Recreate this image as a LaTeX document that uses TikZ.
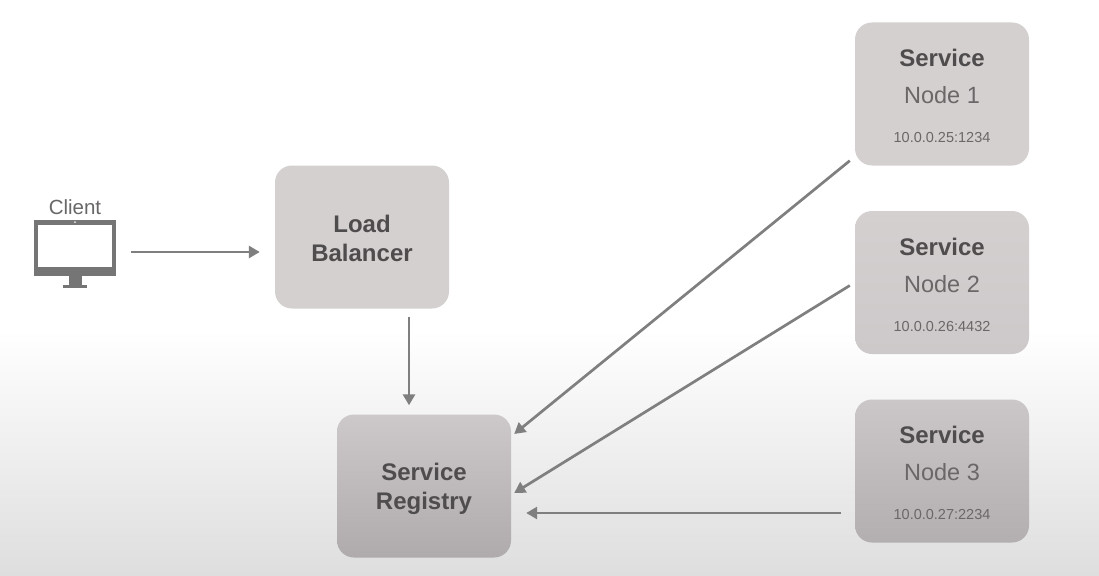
\documentclass[tikz,border=0pt]{standalone}
\usepackage{fontspec}
\setmainfont{Liberation Sans}
\usetikzlibrary{calc,arrows.meta}
\definecolor{txtdark}{HTML}{4F4C4D}
\definecolor{txtmid}{HTML}{6A6768}
\definecolor{arrowgrey}{HTML}{807F80}
\definecolor{monitorgrey}{HTML}{767576}
\definecolor{bgbottom}{HTML}{DEDEDE}
\definecolor{boxa}{HTML}{D5D0D0}
\definecolor{boxtop2}{HTML}{D5D0D0}
\definecolor{boxbot2}{HTML}{CDC8C9}
\definecolor{boxtop3}{HTML}{CBC6C7}
\definecolor{boxbot3}{HTML}{B3AFB1}
\definecolor{boxtopR}{HTML}{CDC8C9}
\definecolor{boxbotR}{HTML}{AFABAD}
\tikzset{
  x=1pt,y=-1pt,
  box/.style={rounded corners=17pt,minimum width=174pt,minimum height=143pt,inner sep=0pt,align=center,text=txtdark},
  boxA/.style={box,fill=boxa},
  bigbold/.style={font=\fontsize{24}{29}\selectfont\bfseries},
  svcfont/.style={font=\fontsize{24}{37}\selectfont},
  conn/.style={draw=arrowgrey,line width=2.7pt,-{Triangle[length=11pt,width=12pt]}},
}
\newcommand{\svctext}[2]{\rule{0pt}{22pt}\textbf{Service}\\{\fontsize{23.5}{37}\selectfont\color{txtmid}Node #1}\\[2pt]{\fontsize{14.5}{37}\selectfont\color{txtmid}#2}}
\begin{document}
\begin{tikzpicture}
\useasboundingbox (0,0) rectangle (1099,575);
\fill[white] (0,0) rectangle (1099,575);
\shade[top color=white,bottom color=bgbottom] (0,330) rectangle (1099,575);
% monitor
\node[inner sep=0pt,text=txtmid,font=\fontsize{20.5}{24}\selectfont] (clientlabel) at (75,207) {Client};
\node[fill=monitorgrey,minimum width=82.5pt,minimum height=56.5pt,inner sep=0pt] (screen) at (74.75,247.75) {};
\fill[white] (37.5,225) rectangle (112,267);
\fill[white!85!monitorgrey] (75,222) circle (1pt);
\fill[monitorgrey] (69,276) -- (82,276) -- (82,285) -- (69,285) -- cycle;
\fill[monitorgrey] (63,285) rectangle (87,287.5);
\node[boxA,bigbold] (lb) at (362,237) {\rule{0pt}{21pt}Load\\Balancer};
\node[box,bigbold,bottom color=boxbotR,top color=boxtopR] (reg) at (424,486) {\rule{0pt}{23pt}Service\\Registry};
\node[boxA,svcfont] (n1) at (942,94) {\svctext{1}{10.0.0.25:1234}};
\node[box,svcfont,top color=boxtop2,bottom color=boxbot2] (n2) at (942,282.5) {\svctext{2}{10.0.0.26:4432}};
\node[box,svcfont,top color=boxtop3,bottom color=boxbot3] (n3) at (942,471) {\svctext{3}{10.0.0.27:2234}};
\draw[conn] ($(screen.east)+(15,4.25)$) -- ($(lb.west)+(-15,15)$);
\draw[conn] ($(lb.south)+(47,8)$) -- ($(reg.north)+(-15,-9)$);
\draw[conn] ($(n1.south west)+(-5,-5)$) -- ($(reg.east)+(3,-52)$);
\draw[conn] ($(n2.west)+(-5,3)$) -- ($(reg.east)+(3,7)$);
\draw[conn] ($(n3.west)+(-14,42)$) -- ($(reg.east)+(15,27)$);
\end{tikzpicture}
\end{document}
